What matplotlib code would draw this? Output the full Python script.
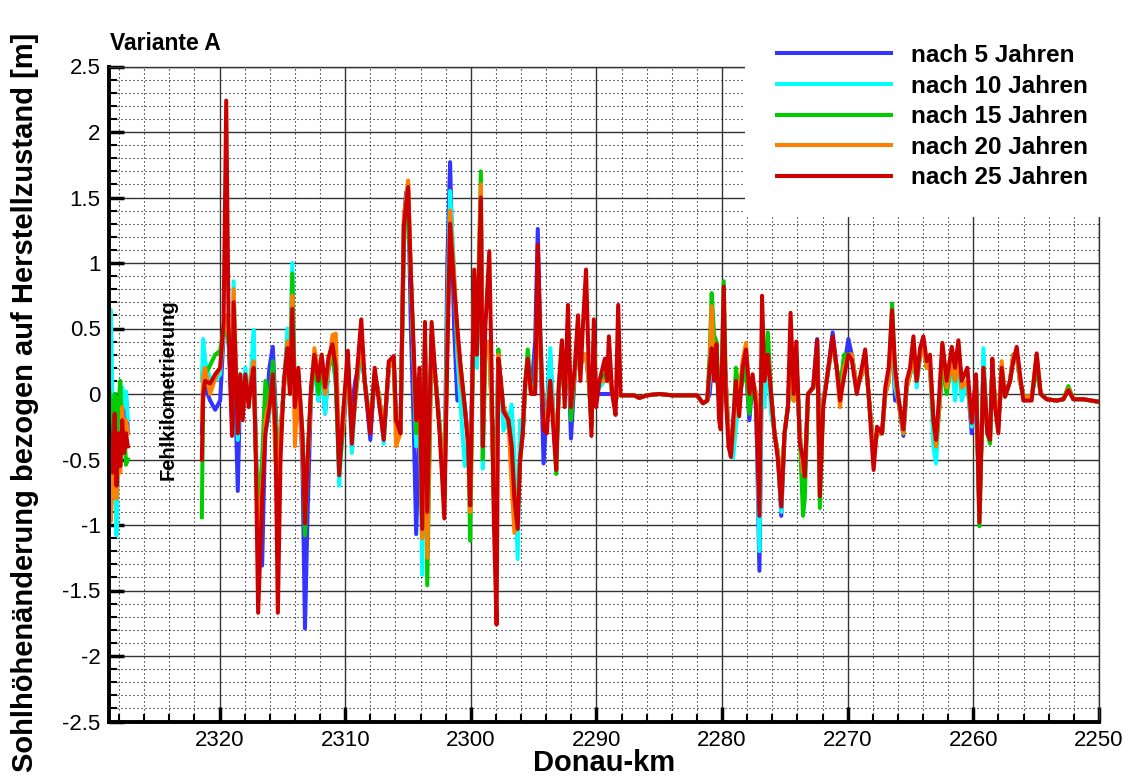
import matplotlib
matplotlib.use("Agg")
import matplotlib.pyplot as plt
from matplotlib.ticker import MultipleLocator
from matplotlib.patches import Rectangle

plt.rcParams['font.family'] = ['Liberation Sans', 'DejaVu Sans']

# Legende / Reihen
labels = ["nach 5 Jahren", "nach 10 Jahren", "nach 15 Jahren", "nach 20 Jahren", "nach 25 Jahren"]
colors = ["#3434ff", "#00ffff", "#00cc00", "#ff8000", "#cc0000"]

# Abschnitt A (vor der Fehlkilometrierung)
km_a = [2328.8, 2328.65, 2328.5, 2328.35, 2328.2, 2328.05, 2327.9, 2327.75, 2327.6, 2327.45, 2327.3]
j5_a = [0.15, -0.30, -0.50, 0.00, -0.60, -0.20, -0.50, -0.10, -0.30, 0.00, -0.30]
j10_a = [0.30, 0.64, -0.20, -0.50, -1.08, -0.40, -0.30, 0.05, -0.10, 0.02, -0.20]
j15_a = [0.05, -0.10, -0.40, 0.00, -0.50, -0.10, 0.10, -0.30, -0.20, -0.54, -0.50]
j20_a = [-0.30, -0.97, -0.60, -0.40, -0.80, -0.50, -0.60, -0.10, -0.35, -0.20, -0.30]
j25_a = [-0.20, -0.45, -0.60, -0.15, -0.70, -0.30, -0.55, -0.20, -0.45, -0.30, -0.40]

# Abschnitt B1 (km 2321.4 - 2310)
km_b1 = [2321.41, 2321.30, 2321.15, 2320.75, 2320.35, 2319.95, 2319.68, 2319.47, 2319.28, 2319.01,
         2318.88, 2318.55, 2318.35, 2318.16, 2317.95, 2317.68, 2317.47, 2317.28, 2317.10, 2316.93,
         2316.61, 2316.35, 2316.03, 2315.76, 2315.55, 2315.36, 2315.15, 2314.88, 2314.60, 2314.40,
         2314.21, 2314.00, 2313.73, 2313.41, 2313.20, 2312.99, 2312.72, 2312.45, 2312.13, 2311.87,
         2311.60, 2311.33, 2311.01, 2310.75, 2310.48, 2310.21]
j5_b1 = [-0.30, 0.00, 0.05, -0.05, -0.12, -0.05, 0.45, 0.50, 0.40, -0.20,
         0.50, -0.74, 0.10, -0.10, 0.15, -0.05, 0.18, 0.20, -0.45, -1.00,
         -1.31, -0.20, 0.20, 0.36, -0.10, -0.50, -0.30, 0.05, 0.30, 0.20,
         0.55, -0.05, 0.15, -0.50, -1.79, -0.90, 0.00, 0.25, -0.05, 0.20,
         -0.15, 0.20, 0.30, 0.10, -0.50, -0.30]
j10_b1 = [0.10, 0.42, 0.25, 0.12, 0.10, 0.15, 0.50, 0.55, 0.40, 0.10,
          0.86, -0.35, 0.15, -0.15, 0.20, -0.05, 0.20, 0.49, -0.40, -0.80,
          -0.60, -0.30, -0.15, 0.20, -0.20, -0.40, -0.30, 0.05, 0.50, 0.20,
          1.00, -0.05, 0.15, -0.30, -0.80, -0.50, 0.00, 0.20, -0.05, 0.20,
          -0.15, 0.20, 0.30, 0.10, -0.70, -0.30]
j15_b1 = [-0.94, 0.05, 0.15, 0.22, 0.30, 0.33, 0.50, 0.50, 0.40, 0.00,
          0.60, -0.30, 0.10, -0.15, 0.12, -0.05, 0.10, 0.15, -0.50, -0.90,
          -0.50, 0.10, -0.10, 0.25, -0.20, -0.50, -0.30, 0.05, 0.40, 0.10,
          0.92, -0.05, 0.15, -0.30, -1.08, -0.50, 0.00, 0.25, 0.00, 0.20,
          0.00, 0.20, 0.30, 0.10, -0.60, -0.30]
j20_b1 = [-0.20, 0.15, 0.20, 0.00, 0.12, 0.20, 0.50, 0.60, 0.45, 0.10,
          0.80, -0.25, 0.10, -0.15, 0.10, -0.05, 0.15, 0.25, -0.50, -1.20,
          -0.70, -0.20, -0.05, 0.10, -0.50, -0.70, -0.30, 0.05, 0.40, 0.05,
          0.75, -0.40, 0.15, -0.45, -0.90, -0.50, 0.00, 0.35, 0.15, 0.30,
          0.00, 0.20, 0.45, 0.46, -0.45, -0.30]
j25_b1 = [-0.50, 0.00, 0.10, 0.08, 0.15, 0.20, 0.55, 2.24, 0.52, -0.32,
          0.70, -0.30, 0.15, -0.20, 0.15, -0.10, 0.10, 0.20, -0.55, -1.67,
          -0.80, -0.30, -0.10, 0.15, -0.30, -1.67, -0.50, 0.10, 0.35, 0.00,
          0.65, -0.10, 0.20, -0.30, -0.99, -0.50, 0.05, 0.30, 0.10, 0.30,
          0.05, 0.28, 0.38, 0.20, -0.62, -0.20]

# Abschnitt B2 (km 2310 - 2300)
km_b2 = [2309.79, 2309.47, 2309.20, 2308.72, 2308.45, 2308.00, 2307.65, 2307.33, 2306.93, 2306.53,
         2306.13, 2305.95, 2305.60, 2305.33, 2305.15, 2304.99, 2304.77, 2304.53, 2304.35, 2304.08,
         2303.87, 2303.65, 2303.47, 2303.12, 2302.80, 2302.48, 2302.11, 2301.87, 2301.65, 2301.33,
         2301.07, 2300.80, 2300.48, 2300.21, 2300.05]
j5_b2 = [0.10, -0.10, 0.10, 0.30, 0.10, -0.35, 0.15, 0.00, -0.30, 0.20,
         0.25, -0.25, -0.30, 1.30, 1.54, 1.55, 0.50, -0.30, -1.07, -0.20,
         -0.90, 0.40, -0.90, 0.45, 0.10, -0.25, -0.80, 1.00, 1.77, 0.50,
         -0.05, 0.10, -0.10, -0.35, -0.60]
j10_b2 = [0.25, -0.45, -0.05, 0.35, 0.10, -0.20, 0.15, 0.00, -0.38, 0.20,
          0.25, -0.25, -0.30, 1.20, 1.45, 1.50, 0.90, 0.20, -0.40, 0.10,
          -1.38, 0.40, -1.20, 0.45, 0.10, -0.25, -0.80, 0.60, 1.55, 0.95,
          0.30, -0.10, -0.55, -0.35, -0.70]
j15_b2 = [0.25, -0.30, -0.05, 0.40, 0.10, -0.25, 0.15, 0.00, -0.30, 0.20,
          0.25, -0.25, -0.30, 1.10, 1.50, 1.45, 0.90, 0.20, -0.30, 0.10,
          -1.10, 0.40, -1.46, 0.45, 0.10, -0.25, -0.80, 0.50, 1.35, 0.85,
          0.40, 0.20, -0.10, -0.35, -1.12]
j20_b2 = [0.25, -0.30, -0.05, 0.45, 0.10, -0.25, 0.15, 0.00, -0.30, 0.20,
          0.25, -0.40, -0.30, 1.35, 1.50, 1.63, 0.90, 0.20, -0.20, 0.10,
          -1.10, 0.40, -1.25, 0.45, 0.10, -0.25, -0.80, 0.40, 1.40, 0.90,
          0.45, 0.10, -0.10, -0.35, -0.90]
j25_b2 = [0.33, -0.38, 0.00, 0.57, 0.10, -0.30, 0.20, -0.05, -0.35, 0.25,
          0.29, -0.20, -0.30, 1.28, 1.45, 1.58, 0.90, 0.30, -0.20, 0.20,
          -1.03, 0.55, -0.90, 0.55, 0.10, -0.30, -0.95, 0.30, 1.30, 0.82,
          0.50, 0.20, -0.10, -0.40, -0.85]

# Abschnitt B3 (km 2300 - 2288)
km_b3 = [2299.73, 2299.52, 2299.20, 2299.05, 2298.85, 2298.53, 2298.35, 2298.16, 2297.95, 2297.81,
         2297.60, 2297.41, 2297.01, 2296.75, 2296.53, 2296.27, 2296.08, 2295.87, 2295.68, 2295.47,
         2295.20, 2294.88, 2294.67, 2294.45, 2294.21, 2293.95, 2293.68, 2293.41, 2293.20, 2293.01,
         2292.75, 2292.53, 2292.27, 2292.03, 2291.73, 2291.47, 2291.28, 2291.09, 2290.83, 2290.61,
         2290.40, 2290.21, 2290.03, 2289.76, 2289.33, 2289.15, 2289.01, 2288.75, 2288.48, 2288.27,
         2288.08]
j5_b3 = [0.80, 0.30, 1.40, 0.30, 0.30, 0.40, -0.10, -0.40, -0.40, 0.30,
         0.05, -0.10, -0.20, -0.40, -0.70, -0.90, -0.50, -0.30, 0.05, 0.25,
         0.00, 0.40, 1.26, 0.30, -0.53, -0.10, 0.30, -0.20, -0.45, 0.00,
         0.30, 0.00, 0.40, -0.34, 0.15, 0.45, 0.20, 0.30, 0.30, 0.10,
         -0.20, 0.40, 0.00, 0.00, 0.00, 0.00, 0.00, 0.00, -0.05, 0.00,
         -0.01]
j10_b3 = [0.70, 0.20, 1.30, -0.57, 0.30, 0.40, -0.10, -0.90, -0.50, 0.30,
          0.05, -0.28, -0.20, -0.08, -0.50, -1.26, -0.20, -0.30, 0.05, 0.25,
          0.00, 0.10, 0.80, 0.45, -0.20, -0.20, 0.35, -0.20, -0.45, 0.00,
          0.30, 0.00, 0.40, -0.10, 0.15, 0.45, 0.30, 0.30, 0.30, 0.10,
          -0.20, 0.40, 0.00, 0.05, 0.10, 0.10, 0.20, 0.00, -0.05, 0.00,
          -0.01]
j15_b3 = [0.90, 0.30, 1.70, -0.50, 0.30, 0.40, -0.10, -0.80, -0.60, 0.34,
          0.05, -0.10, -0.20, -0.40, -0.80, -0.90, -0.50, -0.30, 0.05, 0.34,
          0.00, 0.05, 0.80, 0.30, -0.20, -0.20, 0.10, -0.20, -0.61, 0.00,
          0.30, 0.00, 0.40, -0.20, 0.15, 0.45, 0.20, 0.30, 0.30, 0.10,
          -0.25, 0.40, 0.00, 0.10, 0.15, 0.10, 0.20, 0.00, -0.05, 0.00,
          -0.01]
j20_b3 = [0.90, 0.30, 1.60, -0.30, 0.30, 0.40, -0.10, -0.85, -0.85, 0.30,
          0.05, -0.10, -0.20, -0.70, -1.06, -0.90, -0.50, -0.30, 0.05, 0.25,
          0.00, 0.05, 0.80, 0.30, -0.20, -0.20, 0.10, -0.20, -0.45, 0.00,
          0.40, 0.00, 0.40, -0.10, 0.15, 0.50, 0.20, 0.30, 0.30, 0.10,
          -0.20, 0.40, 0.00, 0.10, 0.10, 0.10, 0.20, 0.00, -0.05, 0.00,
          -0.01]
j25_b3 = [0.95, 0.30, 1.50, -0.40, 0.50, 1.09, 0.20, -1.00, -1.76, 0.27,
          0.10, -0.13, -0.20, -0.40, -0.80, -1.03, -0.50, -0.30, 0.08, 0.27,
          0.00, 0.00, 1.14, 0.40, -0.27, -0.30, 0.10, -0.30, -0.58, 0.05,
          0.41, -0.10, 0.68, -0.10, 0.20, 0.60, 0.10, 0.50, 0.95, 0.20,
          -0.32, 0.57, -0.10, 0.10, 0.27, 0.10, 0.44, 0.00, -0.16, 0.68,
          -0.01]

# ruhiger Abschnitt (km 2288 - 2281)
km_f = [2287.0, 2286.6, 2286.0, 2285.0, 2284.0, 2283.0, 2282.0, 2281.52, 2281.18]
j5_f = [-0.01, -0.03, -0.01, 0.00, -0.01, -0.01, -0.01, -0.07, -0.05]
j10_f = [-0.01, -0.03, -0.01, 0.00, -0.01, -0.01, -0.01, -0.07, -0.05]
j15_f = [-0.01, -0.03, -0.01, 0.00, -0.01, -0.01, -0.01, -0.07, -0.05]
j20_f = [-0.01, -0.03, -0.01, 0.00, -0.01, -0.01, -0.01, -0.07, -0.05]
j25_f = [-0.01, -0.03, -0.01, 0.00, -0.01, -0.01, -0.01, -0.07, -0.05]

# Abschnitt C1 (km 2281 - 2270)
km_c1 = [2280.99, 2280.83, 2280.64, 2280.45, 2280.24, 2280.11, 2279.87, 2279.71, 2279.49, 2279.30,
         2279.12, 2278.90, 2278.64, 2278.37, 2278.10, 2277.83, 2277.57, 2277.30, 2277.03, 2276.82,
         2276.63, 2276.36, 2276.10, 2275.83, 2275.56, 2275.29, 2275.03, 2274.76, 2274.55, 2274.30,
         2274.09, 2273.82, 2273.56, 2273.42, 2273.16, 2272.75, 2272.43, 2272.22, 2271.95, 2271.68,
         2271.20, 2270.88, 2270.61, 2270.29]
j5_c1 = [0.00, 0.20, 0.20, 0.20, -0.05, -0.20, 0.30, 0.10, -0.30, -0.30,
         -0.30, 0.00, 0.00, 0.10, 0.20, -0.20, 0.10, 0.00, -1.35, 0.30,
         0.10, 0.30, 0.00, -0.30, -0.45, -0.93, -0.30, -0.10, 0.30, -0.05,
         0.25, -0.30, -0.60, -0.60, 0.00, 0.05, 0.42, -0.40, -0.05, 0.10,
         0.47, 0.20, 0.05, 0.20]
j10_c1 = [0.10, 0.30, 0.20, 0.20, -0.05, -0.20, 0.30, 0.10, -0.30, -0.30,
          -0.49, -0.25, 0.00, 0.10, 0.20, 0.00, 0.10, 0.00, -1.20, 0.30,
          -0.10, 0.30, -0.15, -0.30, -0.45, -0.90, -0.30, -0.10, 0.30, -0.05,
          0.25, -0.30, -0.60, -0.60, 0.00, 0.05, 0.35, -0.50, -0.05, 0.10,
          0.40, 0.20, 0.05, 0.20]
j15_c1 = [0.30, 0.77, 0.45, 0.40, -0.05, -0.20, 0.86, 0.10, -0.30, -0.35,
          -0.30, 0.20, 0.00, 0.10, 0.20, -0.15, 0.10, 0.00, -0.50, 0.30,
          0.10, 0.47, 0.00, -0.30, -0.45, -0.80, -0.30, -0.10, 0.30, -0.05,
          0.25, -0.30, -0.93, -0.80, 0.00, 0.05, 0.35, -0.87, -0.05, 0.10,
          0.40, 0.20, 0.05, 0.30]
j20_c1 = [0.20, 0.67, 0.20, 0.30, -0.05, -0.20, 0.30, 0.10, -0.30, -0.48,
          -0.30, 0.00, 0.00, 0.25, 0.39, 0.00, 0.10, 0.00, -0.60, 0.30,
          0.10, 0.30, 0.00, -0.30, -0.45, -0.80, -0.30, -0.10, 0.30, -0.05,
          0.25, -0.30, -0.60, -0.60, 0.00, 0.05, 0.35, -0.70, -0.05, 0.10,
          0.40, 0.20, -0.10, 0.20]
j25_c1 = [0.20, 0.35, 0.10, 0.38, -0.20, -0.27, 0.82, 0.00, -0.40, -0.48,
          -0.20, 0.10, -0.17, 0.20, 0.34, 0.00, 0.15, -0.10, -0.93, 0.75,
          0.10, 0.30, 0.00, -0.30, -0.50, -0.86, -0.30, -0.10, 0.62, 0.00,
          0.40, -0.37, -0.50, -0.63, 0.00, 0.05, 0.41, -0.78, -0.10, 0.10,
          0.44, 0.20, -0.05, 0.13]

# Abschnitt C2 (km 2270 - 2250)
km_c2 = [2269.95, 2269.68, 2269.28, 2268.88, 2268.61, 2268.34, 2267.94, 2267.67, 2267.27, 2267.01,
         2266.74, 2266.47, 2266.23, 2265.97, 2265.57, 2265.31, 2265.04, 2264.77, 2264.51, 2264.24,
         2263.98, 2263.71, 2263.45, 2263.18, 2262.97, 2262.71, 2262.47, 2262.12, 2261.72, 2261.46,
         2261.19, 2260.93, 2260.48, 2260.13, 2259.79, 2259.52, 2259.20, 2258.89, 2258.67, 2258.49,
         2258.28, 2258.01, 2257.75, 2257.48, 2257.08, 2256.82, 2256.55, 2256.29, 2256.02, 2255.36,
         2254.96, 2254.64, 2254.16, 2253.37, 2252.84, 2252.44, 2252.04, 2251.25, 2250.00]
j5_c2 = [0.42, 0.30, 0.05, 0.15, 0.30, 0.00, -0.45, -0.30, -0.30, 0.00,
         0.10, 0.50, -0.05, -0.05, -0.32, 0.05, 0.15, 0.30, 0.10, 0.30,
         0.35, 0.20, 0.20, -0.20, -0.40, -0.10, 0.20, 0.05, 0.25, 0.10,
         0.30, 0.05, 0.10, -0.30, 0.10, -0.90, 0.20, -0.30, -0.30, 0.20,
         -0.05, -0.20, 0.10, -0.02, 0.10, 0.30, 0.30, 0.10, -0.02, -0.02,
         0.20, 0.00, -0.04, -0.05, -0.04, 0.04, -0.04, -0.04, -0.06]
j10_c2 = [0.30, 0.30, 0.05, 0.15, 0.30, 0.00, -0.45, -0.30, -0.30, 0.00,
          0.10, 0.50, 0.05, -0.05, -0.30, 0.05, 0.15, 0.30, 0.05, 0.30,
          0.35, 0.20, 0.20, -0.40, -0.53, -0.10, 0.20, 0.05, 0.25, -0.05,
          0.30, -0.05, 0.10, -0.25, 0.10, -0.90, 0.35, -0.30, -0.30, 0.20,
          -0.05, -0.20, 0.10, -0.02, 0.10, 0.30, 0.30, 0.10, -0.02, -0.02,
          0.20, 0.00, -0.04, -0.05, -0.04, 0.04, -0.04, -0.04, -0.06]
j15_c2 = [0.30, 0.30, 0.05, 0.15, 0.30, 0.00, -0.45, -0.30, -0.30, 0.00,
          0.10, 0.69, 0.15, -0.05, -0.30, 0.05, 0.15, 0.30, 0.10, 0.30,
          0.35, 0.20, 0.20, -0.20, -0.40, -0.10, 0.20, 0.00, 0.25, 0.10,
          0.30, 0.05, 0.10, -0.20, 0.10, -1.01, 0.20, -0.30, -0.38, 0.20,
          -0.05, -0.20, 0.10, -0.02, 0.10, 0.30, 0.30, 0.10, -0.02, -0.02,
          0.20, 0.00, -0.04, -0.05, -0.04, 0.06, -0.04, -0.04, -0.06]
j20_c2 = [0.30, 0.30, 0.05, 0.15, 0.30, 0.00, -0.45, -0.30, -0.30, 0.00,
          0.10, 0.50, 0.15, -0.05, -0.30, 0.05, 0.15, 0.30, 0.10, 0.30,
          0.35, 0.20, 0.20, -0.20, -0.40, -0.10, 0.38, 0.05, 0.25, 0.10,
          0.30, 0.05, 0.10, -0.20, 0.10, -0.90, 0.20, -0.30, -0.30, 0.20,
          -0.05, -0.20, 0.25, -0.02, 0.10, 0.30, 0.30, 0.10, -0.02, -0.02,
          0.30, 0.00, -0.04, -0.05, -0.04, 0.04, -0.04, -0.04, -0.06]
j25_c2 = [0.30, 0.26, 0.00, 0.20, 0.34, 0.00, -0.58, -0.25, -0.30, 0.05,
          0.20, 0.64, 0.20, -0.02, -0.27, 0.10, 0.20, 0.44, 0.10, 0.35,
          0.44, 0.25, 0.30, -0.20, -0.35, 0.00, 0.39, 0.10, 0.36, 0.20,
          0.41, 0.10, 0.20, -0.22, 0.15, -0.98, 0.20, -0.30, -0.35, 0.27,
          -0.10, -0.30, 0.20, -0.02, 0.10, 0.25, 0.36, 0.15, -0.05, -0.05,
          0.31, 0.00, -0.04, -0.05, -0.04, 0.03, -0.04, -0.04, -0.06]

# zusammenhaengende Linie ab km 2321.4
km_main = km_b1 + km_b2 + km_b3 + km_f + km_c1 + km_c2
series_a = [j5_a, j10_a, j15_a, j20_a, j25_a]
series_main = [j5_b1 + j5_b2 + j5_b3 + j5_f + j5_c1 + j5_c2,
               j10_b1 + j10_b2 + j10_b3 + j10_f + j10_c1 + j10_c2,
               j15_b1 + j15_b2 + j15_b3 + j15_f + j15_c1 + j15_c2,
               j20_b1 + j20_b2 + j20_b3 + j20_f + j20_c1 + j20_c2,
               j25_b1 + j25_b2 + j25_b3 + j25_f + j25_c1 + j25_c2]
for s in series_main:
    if len(s) != len(km_main):
        raise ValueError(f"length {len(s)} != {len(km_main)}")

fig = plt.figure(figsize=(11.31, 7.78), dpi=100)
ax = fig.add_axes([109 / 1131, 1 - 721.5 / 778, 990 / 1131, 655 / 778])

for lab, col, ya, ym in zip(labels, colors, series_a, series_main):
    ax.plot(km_a, ya, color=col, lw=2.9)
    ax.plot(km_main, ym, color=col, lw=2.9, label=lab)

ax.set_xlim(2328.8, 2250)
ax.set_ylim(-2.5, 2.5)
ax.xaxis.set_major_locator(MultipleLocator(10))
ax.xaxis.set_minor_locator(MultipleLocator(2))
ax.yaxis.set_major_locator(MultipleLocator(0.5))
ax.yaxis.set_minor_locator(MultipleLocator(0.1))
ax.yaxis.set_major_formatter(plt.FuncFormatter(lambda v, p: f"{v:g}"))

ax.set_axisbelow(True)
ax.grid(which='major', color='0.2', lw=1.0)
ax.grid(which='minor', color='k', lw=0.8, ls=(0, (1, 2.6)))

ax.tick_params(which='major', direction='in', length=11, width=2.5, labelsize=16,
               pad=6, top=False, right=False)
ax.tick_params(which='minor', direction='in', length=6, width=1.5, top=False, right=False)
for side in ['left', 'bottom']:
    ax.spines[side].set_linewidth(2.8)
for side in ['top', 'right']:
    ax.spines[side].set_linewidth(1.0)
    ax.spines[side].set_color('0.2')

ax.text(2324.1, 0.03, "Fehlkilometrierung", rotation=90, ha='center', va='center',
        fontsize=14.5, fontweight='bold')

fig.text(110 / 1131, 1 - 43 / 778, "Variante A", fontsize=16.5, fontweight='bold',
         ha='left', va='center')
fig.text(25 / 1131, 1 - 402 / 778, "Sohlhöhenänderung bezogen auf Herstellzustand [m]",
         rotation=90, fontsize=21, fontweight='bold', ha='center', va='center')
fig.text(604 / 1131, 1 - 763 / 778, "Donau-km", fontsize=21, fontweight='bold',
         ha='center', va='center')

# weisser Legendenhintergrund oben rechts
fig.patches.append(Rectangle((745 / 1131, 1 - 217 / 778), 1 - 745 / 1131, 217 / 778,
                             transform=fig.transFigure, facecolor='white',
                             edgecolor='none', zorder=2))
leg = fig.legend(loc='upper left', bbox_to_anchor=(777 / 1131, 1 - 44 / 778),
                 frameon=False, fontsize=17.5, handlelength=4.7, handletextpad=0.8,
                 labelspacing=0.31, borderpad=0, borderaxespad=0)
for t in leg.get_texts():
    t.set_fontweight('bold')
for h in leg.get_lines():
    h.set_linewidth(2.9)
leg.set_zorder(3)

fig.savefig("out.png", dpi=100)
